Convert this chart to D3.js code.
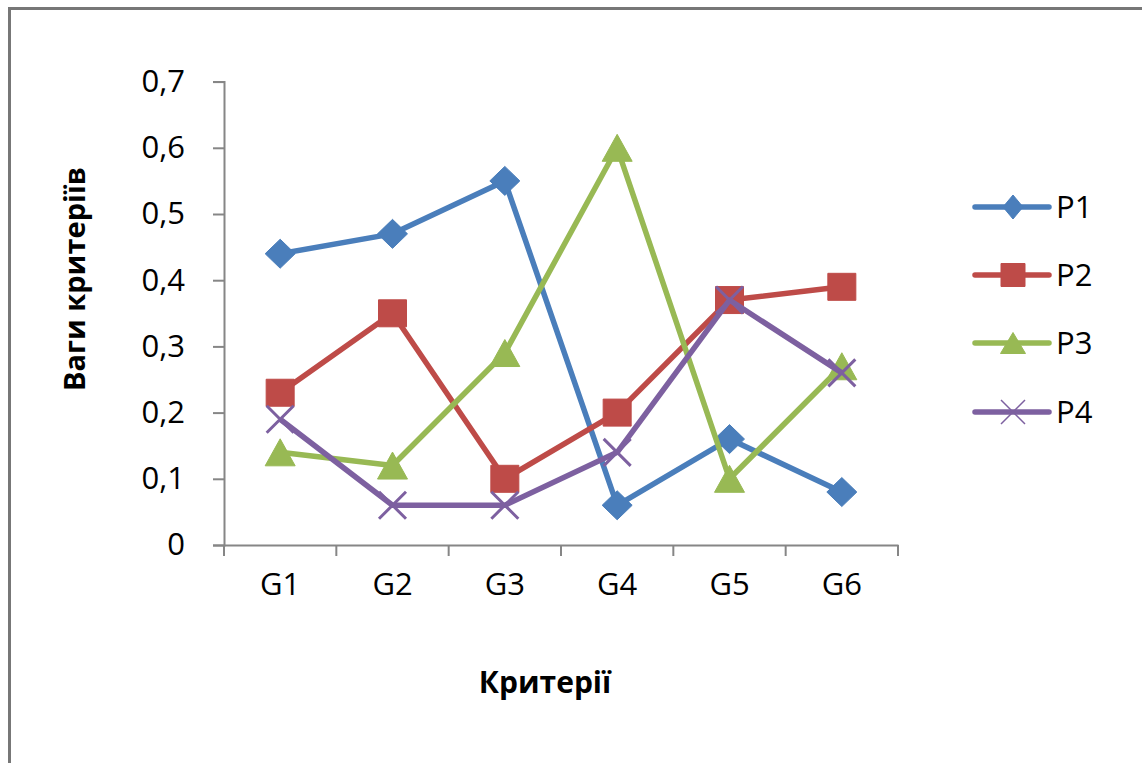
<!DOCTYPE html>
<html>
<head>
  <meta charset="utf-8">
  <script src="https://cdn.jsdelivr.net/npm/d3@7"></script>
  <style>
    body { margin: 0; background: #fff; }
    text { font-family: "Open Sans", sans-serif; fill: #000; }
  </style>
</head>
<body>
<script>
  "use strict";

  // Categories and series values
  var categories = ["G1", "G2", "G3", "G4", "G5", "G6"];
  var seriesNames = ["P1", "P2", "P3", "P4"];
  var p1 = [0.44, 0.47, 0.55, 0.06, 0.16, 0.08];
  var p2 = [0.23, 0.35, 0.10, 0.20, 0.37, 0.39];
  var p3 = [0.14, 0.12, 0.29, 0.60, 0.10, 0.27];
  var p4 = [0.19, 0.06, 0.06, 0.14, 0.37, 0.26];
  var yTicks = [0, 0.1, 0.2, 0.3, 0.4, 0.5, 0.6, 0.7];

  var width = 1142, height = 763;
  var colors = ["#4A7EBB", "#BE4B48", "#98B954", "#7D60A0"];
  var symbols = ["diamond", "square", "triangle", "cross"];
  var values = [p1, p2, p3, p4];

  var svg = d3.select("body").append("svg")
      .attr("width", width)
      .attr("height", height);

  // chart frame (only top and left edges show)
  svg.append("path")
      .attr("d", "M9.5," + height + "V8.5H" + width)
      .attr("fill", "none")
      .attr("stroke", "#777")
      .attr("stroke-width", 3);

  var x = d3.scaleBand().domain(categories).range([224, 898]);
  var y = d3.scaleLinear().domain([0, 0.7]).range([545, 81.6]);
  var cx = function(c) { return x(c) + x.bandwidth() / 2; };

  var comma = d3.formatLocale({decimal: ",", thousands: " ", grouping: [3], currency: ["", ""]});
  var fmt = function(d) { return d === 0 ? "0" : comma.format(".1f")(d); };

  // y axis
  var yAxis = svg.append("g")
      .attr("transform", "translate(224,0)")
      .call(d3.axisLeft(y).tickValues(yTicks).tickFormat(fmt).tickSize(11).tickPadding(28));
  yAxis.select(".domain").attr("stroke", "#868686").attr("stroke-width", 2);
  yAxis.selectAll(".tick line").attr("stroke", "#868686").attr("stroke-width", 2);
  yAxis.selectAll(".tick text")
      .style("font-size", "31px")
      .attr("fill", "#000");

  // x axis: labels centred on categories, ticks between them
  var xAxis = svg.append("g")
      .attr("transform", "translate(0,545)")
      .call(d3.axisBottom(x).tickSize(0).tickPadding(28));
  xAxis.select(".domain").attr("stroke", "#868686").attr("stroke-width", 2);
  xAxis.selectAll(".tick text")
      .style("font-size", "31px")
      .attr("fill", "#000");
  xAxis.selectAll(".edge")
      .data(categories.concat(["end"]))
      .enter().append("line")
      .attr("x1", function(d) { return d === "end" ? x.range()[1] : x(d); })
      .attr("x2", function(d) { return d === "end" ? x.range()[1] : x(d); })
      .attr("y1", 0)
      .attr("y2", 11)
      .attr("stroke", "#868686")
      .attr("stroke-width", 2);

  // axis titles
  svg.append("text")
      .attr("transform", "translate(85,279) rotate(-90)")
      .attr("text-anchor", "middle")
      .style("font-size", "29px")
      .style("font-weight", "bold")
      .text("Ваги критеріїв");

  svg.append("text")
      .attr("x", 545)
      .attr("y", 693)
      .attr("text-anchor", "middle")
      .style("font-size", "30px")
      .style("font-weight", "bold")
      .text("Критерії");

  // marker drawing, w/h = box width and height
  function marker(g, type, color, w, h, sw) {
    var a = w / 2, b = h / 2, d;
    if (type === "cross") {
      g.append("path")
          .attr("d", "M" + (-a) + "," + (-b) + "L" + a + "," + b + "M" + (-a) + "," + b + "L" + a + "," + (-b))
          .attr("stroke", color)
          .attr("stroke-width", sw)
          .attr("fill", "none");
      return;
    }
    if (type === "diamond") d = "M0," + (-b) + "L" + a + ",0L0," + b + "L" + (-a) + ",0Z";
    else if (type === "square") d = "M" + (-a) + "," + (-b) + "H" + a + "V" + b + "H" + (-a) + "Z";
    else d = "M0," + (-b) + "L" + a + "," + b + "H" + (-a) + "Z";
    g.append("path")
        .attr("d", d)
        .attr("fill", color)
        .attr("stroke", color)
        .attr("stroke-width", 1)
        .attr("stroke-linejoin", "round");
  }

  var line = d3.line()
      .x(function(d, i) { return cx(categories[i]); })
      .y(function(d) { return y(d); });

  var big = {diamond: [30, 29], square: [28, 27], triangle: [30, 27], cross: [27, 27]};
  var small = {diamond: [20, 24], square: [24, 23], triangle: [25, 21], cross: [24, 24]};

  seriesNames.forEach(function(name, s) {
    var g = svg.append("g").attr("class", "series");
    g.append("path")
        .datum(values[s])
        .attr("d", line)
        .attr("fill", "none")
        .attr("stroke", colors[s])
        .attr("stroke-width", 5.5)
        .attr("stroke-linejoin", "round");
    values[s].forEach(function(v, i) {
      var m = g.append("g").attr("transform", "translate(" + cx(categories[i]) + "," + y(v) + ")");
      var sz = big[symbols[s]];
      marker(m, symbols[s], colors[s], sz[0], sz[1], 3);
    });
  });

  // legend
  var legend = svg.append("g");
  var legendY = [207, 275, 343, 412];
  seriesNames.forEach(function(name, s) {
    var row = legend.append("g").attr("transform", "translate(0," + legendY[s] + ")");
    row.append("line")
        .attr("x1", 975).attr("x2", 1049)
        .attr("y1", 0).attr("y2", 0)
        .attr("stroke", colors[s])
        .attr("stroke-width", 5.5)
        .attr("stroke-linecap", "round");
    var m = row.append("g").attr("transform", "translate(1013,0)");
    var sz = small[symbols[s]];
    marker(m, symbols[s], colors[s], sz[0], sz[1], 1.5);
    row.append("text")
        .attr("x", 1056)
        .attr("y", 11)
        .style("font-size", "31px")
        .text(name);
  });
</script>
</body>
</html>
